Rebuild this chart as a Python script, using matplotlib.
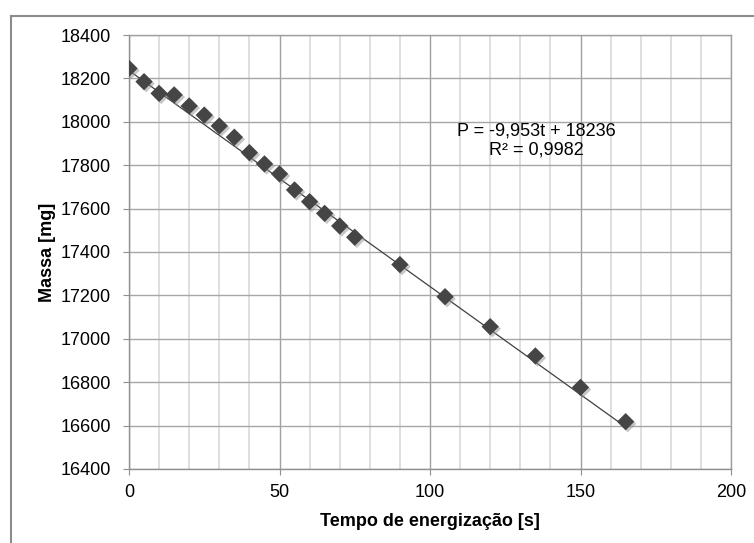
import matplotlib
matplotlib.use("Agg")
import matplotlib.pyplot as plt
import matplotlib.patheffects as pe
from matplotlib.lines import Line2D
from matplotlib.ticker import MultipleLocator

plt.rcParams['font.family'] = ['Liberation Sans', 'DejaVu Sans']

# tempo (s) e massa (mg)
tempo = [0, 5, 10, 15, 20, 25, 30, 35, 40, 45, 50, 55, 60, 65, 70, 75,
         90, 105, 120, 135, 150, 165]
massa = [18246, 18185, 18131, 18124, 18073, 18031, 17981, 17929, 17858,
         17806, 17760, 17686, 17632, 17578, 17520, 17468, 17342, 17194,
         17056, 16921, 16776, 16618]

# linha de tendencia (Excel)
slope = -9.953
intercept = 18236
eq_text = "P = -9,953t + 18236\nR² = 0,9982"

fig = plt.figure(figsize=(7.54, 5.43), dpi=100)
ax = fig.add_axes([129 / 754, 74 / 543, 602 / 754, 434 / 543])

# borda externa do grafico
bc = '#8c8c8c'
fig.add_artist(Line2D([11 / 754, 11 / 754], [0, 1 - 16 / 543], color=bc, lw=1.5))
fig.add_artist(Line2D([11 / 754, 1], [1 - 16 / 543, 1 - 16 / 543], color=bc, lw=1.5))

ax.set_xlim(0, 200)
ax.set_ylim(16400, 18400)
ax.xaxis.set_major_locator(MultipleLocator(50))
ax.xaxis.set_minor_locator(MultipleLocator(10))
ax.yaxis.set_major_locator(MultipleLocator(200))

ax.grid(which='minor', axis='x', color='#d9d9d9', lw=1.2)
ax.grid(which='major', axis='x', color='#a0a0a0', lw=1)
ax.grid(which='major', axis='y', color='#a6a6a6', lw=1)
ax.set_axisbelow(True)

for s in ax.spines.values():
    s.set_color('#a0a0a0')
    s.set_linewidth(1)
ax.spines['left'].set_color('#909090')
ax.spines['bottom'].set_color('#909090')

ax.tick_params(which='major', axis='y', direction='out', length=4.5, color='#909090',
               labelsize=13, pad=8.5)
ax.tick_params(which='major', axis='x', direction='out', length=4.5, color='#909090',
               labelsize=13, pad=6)
ax.tick_params(which='minor', length=0)

t_fit = [min(tempo), max(tempo)]
ax.plot(t_fit, [slope * t + intercept for t in t_fit], color='#404040', lw=0.9, zorder=2)

ax.scatter(tempo, massa, marker='D', s=78, color='#454545', zorder=3, linewidths=0,
           path_effects=[pe.SimplePatchShadow(offset=(1.5, -1.5), shadow_rgbFace='#909090', alpha=0.5),
                         pe.Normal()])

ax.text(135.5, 17912, eq_text, ha='center', va='center',
        fontsize=13, linespacing=1.15)

ax.set_xlabel('Tempo de energização [s]', fontsize=13, fontweight='bold', labelpad=9)
ax.set_ylabel('Massa [mg]', fontsize=13, fontweight='bold', labelpad=3)

fig.savefig('out.png', dpi=100)
